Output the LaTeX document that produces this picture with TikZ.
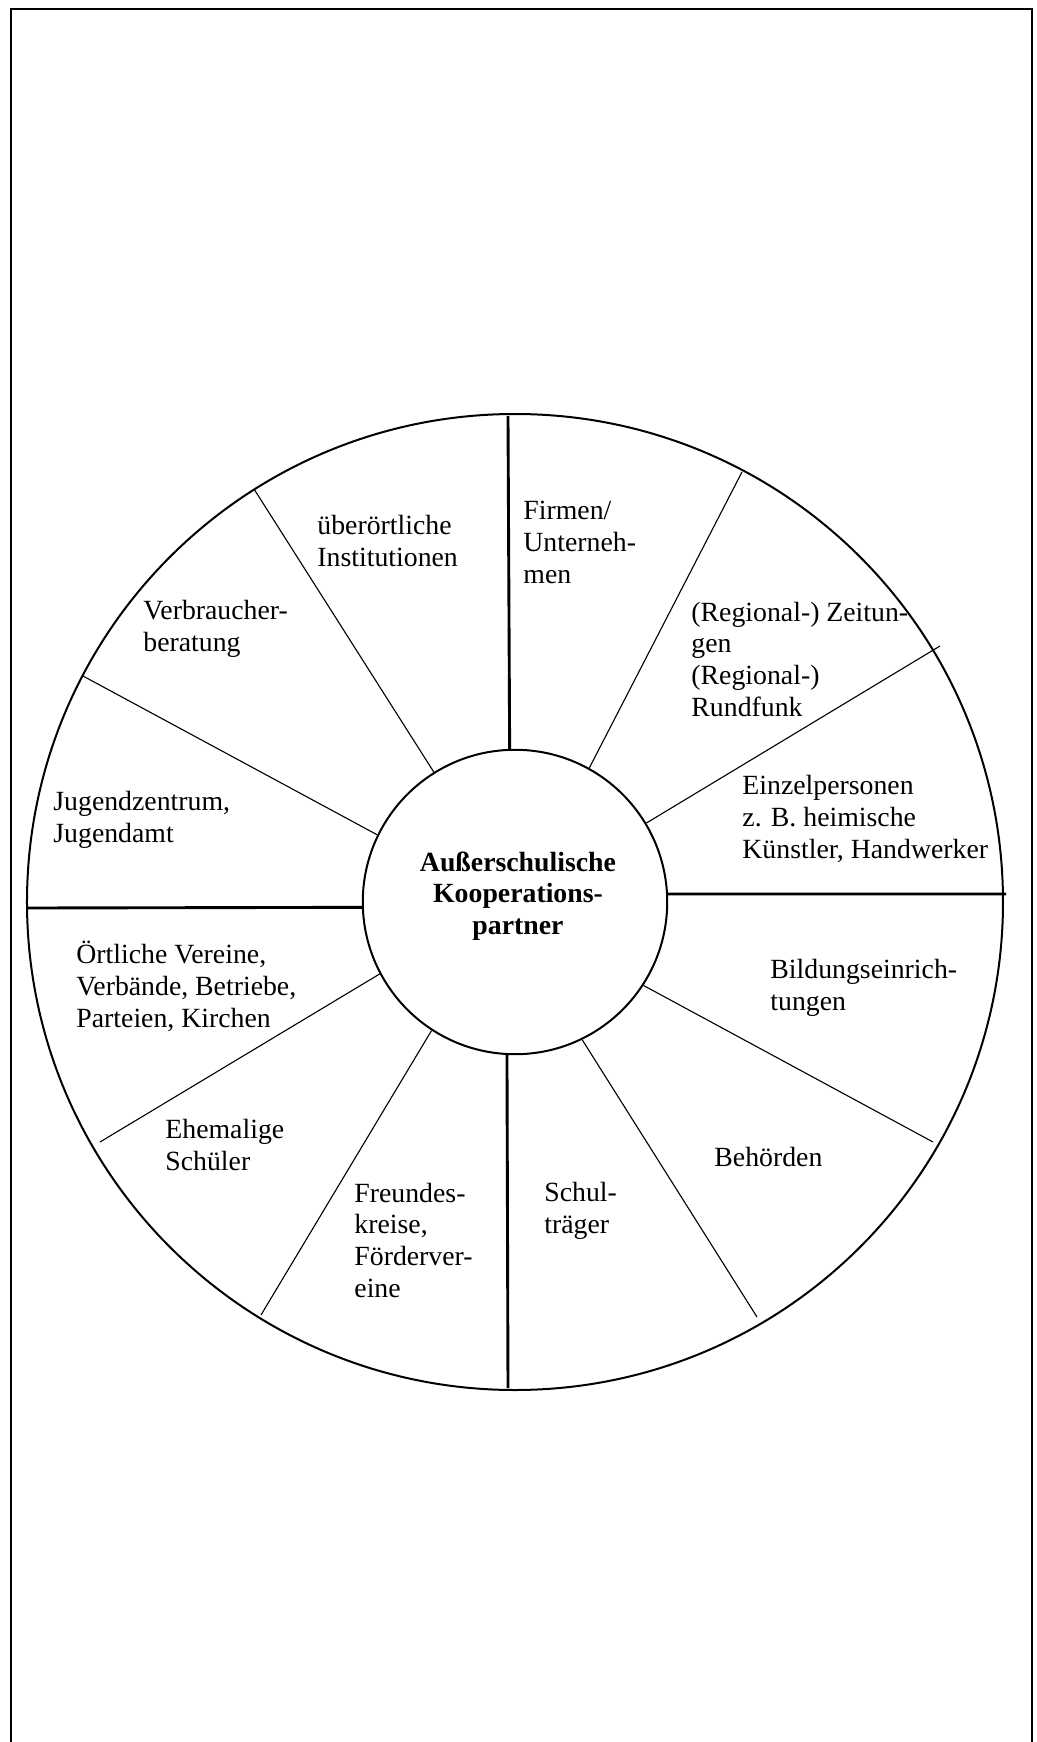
\documentclass[tikz,border=0pt]{standalone}
\usepackage{fontspec}
\setmainfont{Liberation Serif}

\tikzset{
  hub/.style={draw, circle, line width=0.9pt, minimum size=137pt, inner sep=0pt},
  thickspoke/.style={line width=1.3pt},
  thinspoke/.style={line width=0.5pt},
  % placed at the baseline of the last line
  field/.style={anchor=base west, align=left, inner sep=0pt},
}

\begin{document}
\begin{tikzpicture}[x=0.45pt, y=0.45pt, font=\fontsize{12.5}{14.2}\selectfont]

    \useasboundingbox (-515,902) rectangle (522,-840);

    % Frame, open at the bottom
    \draw[line width=1pt] (-504,-850) -- (-504,893) -- (517,893) -- (517,-850);

    % Outer ring and the hub in the middle
    \draw[line width=0.9pt] (0,0) circle (488);
    \node[hub] (hub) at (0,0) {};
    \node[font=\fontsize{12.5}{14.2}\selectfont\bfseries, align=center] (title) at (3,6)
        {Außerschulische\\Kooperations-\\partner};

    % End points of the spokes on the ring
    \coordinate (N) at (-7,486);
    \coordinate (S) at (-7,-486);
    \coordinate (W) at (-488,-6);
    \coordinate (E) at (491,8);
    \coordinate (NE1) at (227,430);
    \coordinate (NE2) at (425,256);
    \coordinate (SE1) at (418,-240);
    \coordinate (SE2) at (242,-415);
    \coordinate (SW1) at (-254,-413);
    \coordinate (SW2) at (-415,-240);
    \coordinate (NW1) at (-432,226);
    \coordinate (NW2) at (-261,413);

    % The four thick spokes
    \draw[thickspoke] (N) -- (hub.92.6);
    \draw[thickspoke] (S) -- (hub.267.4);
    \draw[thickspoke] (W) -- (hub.182.3);
    \draw[thickspoke] (E) -- (hub.3);

    % The thin spokes in between
    \draw[thinspoke] (NE1) -- (hub.61);
    \draw[thinspoke] (NE2) -- (hub.31.5);
    \draw[thinspoke] (SE1) -- (hub.327.7);
    \draw[thinspoke] (SE2) -- (hub.296);
    \draw[thinspoke] (SW1) -- (hub.237);
    \draw[thinspoke] (SW2) -- (hub.208.6);
    \draw[thinspoke] (NW1) -- (hub.154.1);
    \draw[thinspoke] (NW2) -- (hub.122.8);

    % Labels of the fields
    \node[field] (firmen) at (8,319) {Firmen/\\Unterneh-\\men};
    \node[field] (zeitung) at (176,186) {(Regional-) Zeitun-\\gen\\(Regional-)\\Rundfunk};
    \node[field] (einzel) at (227,44) {Einzelpersonen\\z. B. heimische\\Künstler, Handwerker};
    \node[field] (bildung) at (255,-108) {Bildungseinrich-\\tungen};
    \node[field] (behoerden) at (199,-264) {Behörden};
    \node[field] (traeger) at (29,-331) {Schul-\\träger};
    \node[field] (freunde) at (-161,-395) {Freundes-\\kreise,\\Förderver-\\eine};
    \node[field] (ehemalige) at (-350,-268) {Ehemalige\\Schüler};
    \node[field] (vereine) at (-439,-125) {Örtliche Vereine,\\Verbände, Betriebe,\\Parteien, Kirchen};
    \node[field] (jugend) at (-462,60) {Jugendzentrum,\\Jugendamt};
    \node[field] (verbraucher) at (-372,251) {Verbraucher-\\beratung};
    \node[field] (ueberort) at (-198,336) {überörtliche\\Institutionen};

\end{tikzpicture}
\end{document}
